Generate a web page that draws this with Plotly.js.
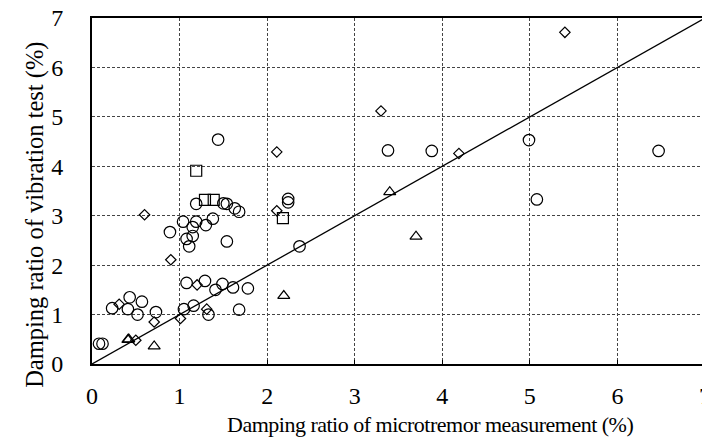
<!DOCTYPE html>
<html>
<head>
<meta charset="utf-8">
<script src="https://cdn.plot.ly/plotly-3.0.1.min.js"></script>
<style>
html,body{margin:0;padding:0;overflow:hidden;background:#fff;}
#chart{width:720px;height:444px;}
#chart g.annotation[data-index="0"] text{letter-spacing:-0.5px;}
</style>
</head>
<body>
<div id="chart"></div>
<script>
// Circles
var circleX = [0.08,0.12,0.23,0.43,0.41,0.57,0.52,0.73,
  1.05,1.16,1.33,1.68,1.08,1.29,1.41,1.49,1.61,1.78,
  1.04,1.19,1.38,1.30,1.15,0.89,1.08,1.15,1.11,1.54,
  1.19,1.50,1.54,1.63,1.68,1.44,2.24,2.24,2.37,
  3.38,3.88,4.99,6.47,5.08];
var circleY = [0.41,0.41,1.13,1.35,1.11,1.26,1.00,1.05,
  1.11,1.18,1.00,1.10,1.64,1.68,1.50,1.62,1.55,1.53,
  2.88,2.88,2.94,2.81,2.77,2.67,2.53,2.59,2.38,2.48,
  3.24,3.25,3.24,3.15,3.08,4.54,3.34,3.27,2.38,
  4.32,4.31,4.53,4.31,3.33];
// Diamonds
var diamondX = [0.31,0.50,0.71,0.90,0.60,1.01,1.20,1.31,2.11,2.11,3.30,4.19,5.40];
var diamondY = [1.21,0.48,0.85,2.11,3.02,0.92,1.60,1.11,4.29,3.10,5.12,4.26,6.71];
// Squares
var squareX = [1.19,1.29,1.39,2.18];
var squareY = [3.91,3.32,3.32,2.95];
// Triangles
var triangleX = [0.41,0.42,0.71,2.19,3.40,3.70];
var triangleY = [0.49,0.50,0.36,1.38,3.48,2.58];
// 1:1 line
var lineX = [0, 7];
var lineY = [0, 7];
var tickVals = [0,1,2,3,4,5,6,7];
var xTitle = 'Damping ratio of microtremor measurement (%)';
var yTitle = 'Damping ratio of vibration test (%)';

var mk = function(sym, size){
  return {symbol: sym, size: size, color: '#000', line: {color: '#000', width: 1.2}};
};

var traces = [
  {x: lineX, y: lineY, mode: 'lines', line: {color: '#000', width: 1.3}, hoverinfo: 'skip'},
  {x: circleX, y: circleY, mode: 'markers', marker: mk('circle-open', 11.5)},
  {x: diamondX, y: diamondY, mode: 'markers', marker: mk('diamond-open', 8)},
  {x: squareX, y: squareY, mode: 'markers', marker: mk('square-open', 11)},
  {x: triangleX, y: triangleY, mode: 'markers', marker: mk('triangle-up-open', 10.5)}
];

var fontFam = '"Liberation Serif", "Times New Roman", serif';
var layout = {
  width: 720, height: 444,
  margin: {l: 92, r: 14.5, t: 18, b: 80},
  paper_bgcolor: '#fff', plot_bgcolor: '#fff',
  showlegend: false,
  font: {family: fontFam, size: 24, color: '#000'},
  xaxis: {
    range: [0, 7], tickvals: tickVals, ticktext: tickVals.map(String),
    showgrid: true, gridcolor: '#444', griddash: '3px,2px', gridwidth: 1,
    zeroline: false, showline: true, linecolor: '#000', linewidth: 2, mirror: true,
    ticks: 'inside', ticklen: 4, tickcolor: '#000',
    ticklabeloverflow: 'allow', ticklabelstandoff: 9,
    tickfont: {family: fontFam, size: 24, color: '#000'}
  },
  yaxis: {
    range: [0, 7], tickvals: tickVals, ticktext: tickVals.map(String),
    showgrid: true, gridcolor: '#444', griddash: '3px,2px', gridwidth: 1,
    zeroline: false, showline: true, linecolor: '#000', linewidth: 2, mirror: true,
    ticks: '', ticklabelstandoff: 22,
    tickfont: {family: fontFam, size: 24, color: '#000'}
  },
  annotations: [
    {text: xTitle, xref: 'paper', yref: 'paper', x: 0.551, y: -0.176,
     xanchor: 'center', yanchor: 'middle', showarrow: false,
     font: {family: fontFam, size: 22, color: '#000'}},
    {text: yTitle, xref: 'paper', yref: 'paper', x: -0.093, y: 0.431,
     xanchor: 'center', yanchor: 'middle', showarrow: false, textangle: -90,
     font: {family: fontFam, size: 24.5, color: '#000'}}
  ]
};

Plotly.newPlot('chart', traces, layout, {displayModeBar: false, staticPlot: true});
</script>
</body>
</html>
